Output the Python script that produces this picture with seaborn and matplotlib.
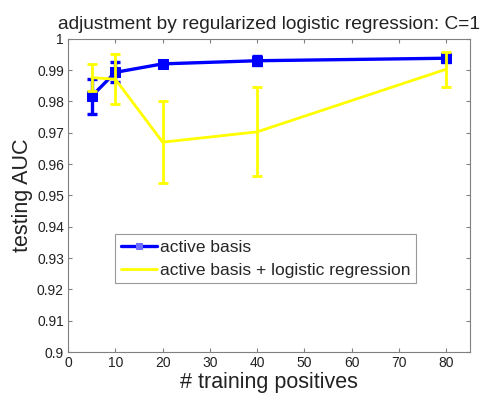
import numpy as np
import pandas as pd
import seaborn as sns
import matplotlib
matplotlib.use("Agg")
import matplotlib.pyplot as plt

# Training set sizes and testing AUC (mean and error half-width)
positives = [5, 10, 20, 40, 80]
auc_basis = [0.9817, 0.9893, 0.9920, 0.9930, 0.9938]
err_basis = [0.0056, 0.0032, 0.0010, 0.0014, 0.0012]
auc_logreg = [0.9876, 0.9871, 0.9670, 0.9703, 0.9903]
err_logreg = [0.0043, 0.0080, 0.0130, 0.0142, 0.0056]

series_names = ["active basis", "active basis + logistic regression"]
colors = ["#0000ff", "#ffff00"]

sns.set_theme(style="white")
plt.rcParams["font.family"] = ["Liberation Sans", "DejaVu Sans"]

df = pd.DataFrame({
    "positives": positives * 2,
    "auc": auc_basis + auc_logreg,
    "err": err_basis + err_logreg,
    "method": [series_names[0]] * len(positives) + [series_names[1]] * len(positives),
})

fig = plt.figure(figsize=(4.83, 3.96), dpi=100)
ax = fig.add_axes([0.141, 0.111, 0.832, 0.791])

styles = {
    series_names[0]: dict(lw=2.4, marker="s", ms=6.5),
    series_names[1]: dict(lw=2.0, marker=None, ms=0),
}
for i, (name, color) in enumerate(zip(series_names, colors)):
    sub = df[df["method"] == name]
    st = styles[name]
    ax.errorbar(sub["positives"], sub["auc"], yerr=sub["err"], fmt="none",
                ecolor=color, elinewidth=st["lw"], capsize=3.5, capthick=st["lw"],
                zorder=2 + 2 * i)
    sns.lineplot(data=sub, x="positives", y="auc", ax=ax, color=color,
                 lw=st["lw"], marker=st["marker"], markersize=st["ms"],
                 markeredgecolor=color, label=name, zorder=3 + 2 * i)

ax.set_xlim(0, 85)
ax.set_ylim(0.9, 1.0)
ax.set_xticks(np.arange(0, 81, 10))
ax.set_yticks(np.round(np.arange(0.9, 1.0001, 0.01), 2))
ax.set_yticklabels(["0.9", "0.91", "0.92", "0.93", "0.94", "0.95", "0.96",
                    "0.97", "0.98", "0.99", "1"])

ax.tick_params(direction="in", length=3, width=0.8, colors="#808080",
               labelcolor="#222222", labelsize=10, top=True, right=True,
               bottom=True, left=True, pad=3)
for sp in ax.spines.values():
    sp.set_color("#808080")
    sp.set_linewidth(0.8)

ax.set_title("adjustment by regularized logistic regression: C=1",
             fontsize=13.8, color="#222222", pad=7)
ax.set_xlabel("# training positives", fontsize=15.5, color="#222222", labelpad=1.5)
ax.set_ylabel("testing AUC", fontsize=15.5, color="#222222", labelpad=3)

leg = ax.legend(loc="lower left", bbox_to_anchor=(0.117, 0.22), frameon=True,
                fancybox=False, edgecolor="#808080", fontsize=12.5,
                handlelength=2.1, borderpad=0.32, labelspacing=0.45,
                handletextpad=0.15, borderaxespad=0)
leg.get_frame().set_linewidth(0.8)
blue_handle = leg.legend_handles[0]
blue_handle.set_markerfacecolor("#6f6fff")
blue_handle.set_markeredgecolor("#6f6fff")
blue_handle.set_markersize(4)

fig.savefig("out.png", dpi=100)
